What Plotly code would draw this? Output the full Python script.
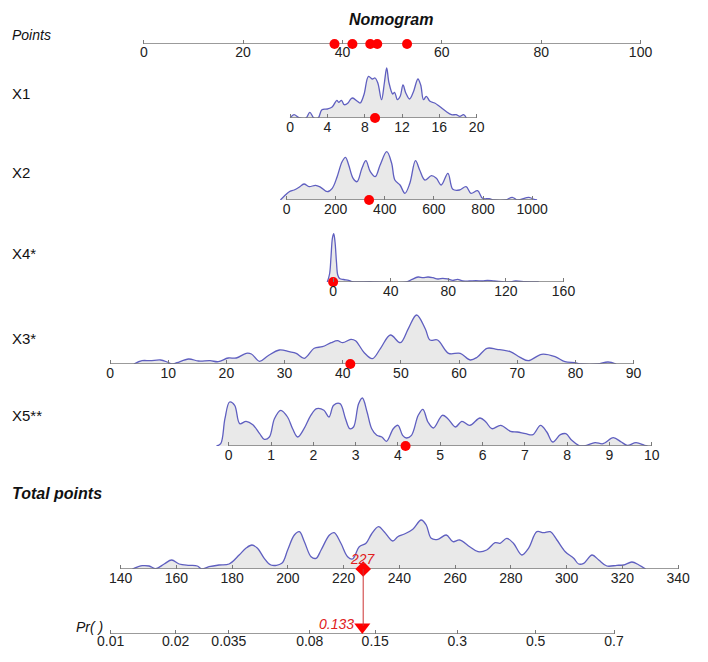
import math
import plotly.graph_objects as go

W, H = 708, 662
FONT = "Arial, Liberation Sans, sans-serif"

# ---------------- data ----------------
points_ticks = [0, 20, 40, 60, 80, 100]
var_labels = ["X1", "X2", "X4*", "X3*", "X5**"]
obs_values = [9.1, 336, 0, 41.3, 4.18]
obs_points = [47.0, 45.6, 38.4, 42.0, 53.0]
obs_total = 227
obs_prob = 0.133

x1_ticks = [0, 4, 8, 12, 16, 20]
x2_ticks = [0, 200, 400, 600, 800, 1000]
x4_ticks = [0, 40, 80, 120, 160]
x3_ticks = [0, 10, 20, 30, 40, 50, 60, 70, 80, 90]
x5_ticks = [0, 1, 2, 3, 4, 5, 6, 7, 8, 9, 10]
total_ticks = [140, 160, 180, 200, 220, 240, 260, 280, 300, 320, 340]
pr_ticks = [0.01, 0.02, 0.035, 0.08, 0.15, 0.3, 0.5, 0.7]
pr_labels = ["0.01", "0.02", "0.035", "0.08", "0.15", "0.3", "0.5", "0.7"]

x1_dx = [0, 0.4, 1.0, 1.7, 2.1, 2.55, 3.0, 3.4, 4.0, 4.5, 5.0, 5.2, 5.5, 5.8, 6.2, 6.5, 6.7, 7.2, 7.5,
         7.9, 8.4, 8.8, 9.1, 9.4, 9.8, 10.1, 10.35, 10.6, 11.0, 11.2, 11.5, 11.8, 12.1, 12.4, 12.8,
         13.2, 13.7, 14.0, 14.3, 14.6, 15.0, 15.5, 16.0, 16.7, 17.3, 17.8, 18.2, 18.6, 18.9]
x1_dy = [0, 3.3, 0, 0, 5.7, 0, 0, 8.3, 9, 11, 17.7, 15.7, 17.7, 13.3, 15, 19, 20, 16.7, 15,
         23, 41.7, 39, 40, 35, 18.3, 35, 50, 35, 24, 25.7, 18.3, 21.7, 33, 25, 19,
         25.7, 39, 33, 18.3, 21.7, 16.7, 15, 11.7, 6.7, 3.3, 3.3, 1.7, 3.3, 0]

x2_dx = [-25, -9, 11, 31, 51, 71, 92, 118, 139, 166, 186, 206, 226, 240, 253, 271, 287, 307, 323,
         341, 361, 381, 408, 428, 441, 462, 482, 502, 525, 542, 563, 590, 610, 630, 657, 677, 704,
         731, 751, 778, 798, 825, 845, 892, 919, 940, 987, 1007, 1020]
x2_dy = [0, 4, 8.3, 10, 12.7, 16, 13.3, 14.7, 12.7, 8.3, 11.7, 23.3, 38.3, 42.7, 35, 21.7, 18.3,
         31.7, 39.3, 28.3, 23.3, 35, 48.3, 36.7, 20, 15, 6.7, 16.7, 39.3, 30, 20, 24.3, 21.7, 15,
         26.7, 10.7, 10, 13.3, 6.7, 9.3, 1.7, 1.3, 0, 0, 2.7, 0, 2.7, 0.7, 0]

x4_dx = [-4.1, -2.5, -1.5, -0.5, 0.4, 1.3, 2.3, 3.2, 4.5, 7.3, 10.8, 13.1, 25.7, 30.3, 51, 54.4,
         59, 62.4, 65.9, 69.3, 72.8, 76.2, 79.7, 83.1, 86.5, 90, 94.6, 99.2, 103.8, 107.2, 111.8,
         117.5, 122.1, 126.7, 133.6, 142.8]
x4_dy = [0, 8, 25, 44, 48.3, 40, 20, 7, 3.5, 2.5, 1.7, 0.3, 0.3, 0, 0, 2.3,
         5, 4.3, 5, 4.3, 3, 3.7, 3, 1.7, 2.7, 1, 1, 1.3, 1, 1.7, 1,
         0.3, 0, 1, 0.3, 0]

x3_dx = [4.1, 5.5, 6.9, 8.7, 9.8, 10.6, 11.5, 13.5, 15.2, 17.2, 18.6, 20.3, 21.7, 23.4, 24.3, 25.7,
         27.1, 29.1, 30.8, 32, 33.4, 35.1, 36.5, 38, 39.1, 40, 41.4, 42.2, 43.7, 45.1, 46.5, 48.2,
         49.9, 51.3, 52.7, 54.2, 55.0, 56.3, 58.2, 60.2, 61.9, 63.1, 64.8, 66.5, 68.8, 70.5, 71.9,
         74.2, 76.5, 78.2, 79.9, 81, 83.8, 85.6, 87]
x3_dy = [0, 3.3, 3.3, 4, 2, 0, 1.3, 5, 3, 3.3, 2.3, 6, 6, 10.7, 10, 2.7,
         8, 14, 12.3, 10.7, 5.7, 15.7, 17.3, 21.3, 23.3, 21.3, 24.7, 23.3, 11.3, 5.3, 15.7, 29,
         21.3, 35.7, 49, 35, 24, 24, 10.7, 10.7, 4, 6.7, 15.7, 14.7, 12.3, 6.7, 3.3,
         9.7, 7.3, 2.3, 1.3, 0, 0, 2, 0]

x5_dx = [-0.29, -0.19, -0.09, 0.02, 0.14, 0.26, 0.41, 0.57, 0.73, 0.84, 0.96, 1.08, 1.23, 1.39, 1.51,
         1.63, 1.78, 1.94, 2.08, 2.25, 2.37, 2.48, 2.63, 2.76, 2.86, 2.95, 3.07, 3.16, 3.27, 3.38,
         3.5, 3.62, 3.73, 3.89, 4.0, 4.11, 4.2, 4.32, 4.48, 4.59, 4.71, 4.84, 5.05, 5.18, 5.36,
         5.51, 5.7, 5.94, 6.08, 6.22, 6.43, 6.66, 6.82, 7.02, 7.19, 7.37, 7.52, 7.66, 7.84, 7.97,
         8.11, 8.27, 8.34, 8.46, 8.66, 8.85, 9.09, 9.28, 9.42, 9.63, 9.83, 9.9]
x5_dy = [0, 2.3, 27.3, 44, 40.7, 22.3, 24.7, 21.3, 12.3, 6.7, 9, 27.3, 35.7, 29, 17.3,
         9, 17.3, 30.7, 37.3, 35.7, 29, 40.7, 42.3, 27.3, 17.3, 19, 42.3, 48, 34, 17.3,
         10.7, 9, 4.7, 17.3, 20.7, 10.7, 8, 10.7, 30.7, 36.7, 24, 18, 30.7, 27.3, 19,
         24.7, 20.7, 28, 24, 17.3, 20.7, 14.7, 14, 12.3, 11.3, 20.7, 14, 4, 11.3, 12.3,
         5.7, 0.7, 0, 0.7, 3.3, 2.3, 8.3, 4, 0.7, 3.3, 0.7, 0]

tot_dx = [144.2, 147.8, 150.2, 152.6, 155.6, 158.3, 161, 164.6, 167.5, 169.1, 171.7, 175.3, 178.9,
          182.5, 184.9, 187.1, 189.1, 191.5, 193.9, 197.8, 199.9, 202.3, 204.1, 205.9, 208.3, 210.1,
          211.9, 214.9, 216.6, 219, 221.4, 223.2, 225.6, 228, 230, 232.5, 234.6, 237.6, 239.4,
          241.8, 244.8, 247.8, 249.6, 251.4, 253.8, 256.8, 259.2, 261.6, 265.2, 268.2, 271.3, 274.3,
          276.1, 278.5, 280.9, 283.9, 286.3, 289.3, 291.7, 294.1, 296.5, 299.5, 302.5, 304.3, 306.1,
          309.1, 311.5, 314.4, 318, 320.4, 323.4, 325.9, 328.3]
tot_dy = [0, 3.3, 3, 0.3, 5, 9, 5, 3.7, 3, 0, 2.3, 4, 5,
          14, 20.7, 24, 20.7, 10.7, 4, 5.7, 19, 34, 37.3, 27.3, 12.3, 10.7,
          19, 34, 36.3, 25.7, 12.3, 10, 22.3, 25.7, 35, 42.3, 37, 28, 32.3,
          35, 39.7, 49, 44, 30.7, 29.7, 34, 27.3, 29, 22.3, 17.3, 19, 26.3,
          25.7, 30.7, 25.7, 14, 20.7, 37.3, 36.3, 37.3, 29, 17.3, 10.7, 5, 5.7,
          14, 9, 3, 3.7, 4, 7, 4, 0]


def logit(p):
    return math.log(p / (1 - p))


# ---------------- layout helpers ----------------
def xdom(v0, v1, p0, p1, r0, r1):
    s = (p1 - p0) / (v1 - v0)
    return [(p0 + (r0 - v0) * s) / W, (p0 + (r1 - v0) * s) / W]


def ydom(base, hpx):
    return [1 - base / H, 1 - (base - hpx) / H]


DH = 60  # px height of density panels

rows = [
    dict(t=points_ticks, tt=None, v=(0, 100), p=(145, 646), r=(-3, 103), base=44, dx=None, dy=None, so=-2),
    dict(t=x1_ticks, tt=None, v=(0, 20), p=(292.7, 480.7), r=(-1, 21), base=118, dx=x1_dx, dy=x1_dy, so=-1),
    dict(t=x2_ticks, tt=None, v=(0, 1000), p=(289, 536.7), r=(-40, 1040), base=200, dx=x2_dx, dy=x2_dy, so=-1),
    dict(t=x4_ticks, tt=None, v=(0, 160), p=(336, 568.3), r=(-8, 165), base=282, dx=x4_dx, dy=x4_dy, so=-1),
    dict(t=x3_ticks, tt=None, v=(0, 90), p=(111, 639), r=(-2, 92), base=364, dx=x3_dx, dy=x3_dy, so=-1),
    dict(t=x5_ticks, tt=None, v=(0, 10), p=(230.7, 657.3), r=(-0.5, 10.3), base=446, dx=x5_dx, dy=x5_dy, so=-1),
    dict(t=total_ticks, tt=None, v=(140, 340), p=(121.7, 684), r=(135, 345), base=569, dx=tot_dx, dy=tot_dy, so=-1),
    dict(t=[logit(p) for p in pr_ticks], tt=pr_labels, v=(logit(0.01), logit(0.7)), p=(111.6, 619.3),
         r=(logit(0.01) - 0.15, logit(0.7) + 0.15), base=634, dx=None, dy=None, so=-3),
]

fig = go.Figure()
layout = dict(
    width=W, height=H, autosize=False,
    margin=dict(l=0, r=0, t=0, b=0),
    paper_bgcolor="white", plot_bgcolor="rgba(0,0,0,0)",
    showlegend=False,
    font=dict(family=FONT, size=14, color="#222"),
)

LINE_COL = "#5f5fc0"
FILL_COL = "rgba(225,225,225,0.75)"
AXIS_COL = "#7a7a7a"
RED = "#ff0000"

for i, row in enumerate(rows, start=1):
    xa = "x" if i == 1 else f"x{i}"
    ya = "y" if i == 1 else f"y{i}"
    xkey = "xaxis" if i == 1 else f"xaxis{i}"
    ykey = "yaxis" if i == 1 else f"yaxis{i}"
    hpx = min(DH, row["base"] - 2)
    layout[xkey] = dict(
        domain=xdom(row["v"][0], row["v"][1], row["p"][0], row["p"][1], row["r"][0], row["r"][1]),
        range=list(row["r"]), anchor=ya,
        tickmode="array", tickvals=row["t"],
        ticktext=row["tt"] if row["tt"] else [str(t) for t in row["t"]],
        ticks="inside", ticklen=4, tickcolor=AXIS_COL, tickwidth=1,
        ticklabelstandoff=row["so"],
        showline=False, showgrid=False, zeroline=False,
        tickfont=dict(family=FONT, size=14, color="#222"),
        fixedrange=True,
    )
    layout[ykey] = dict(domain=ydom(row["base"], hpx), range=[0, hpx], anchor=xa,
                        visible=False, fixedrange=True)
    if row["dx"] is not None:
        fig.add_trace(go.Scatter(x=row["dx"], y=row["dy"], xaxis=xa, yaxis=ya, mode="lines",
                                 line=dict(color=LINE_COL, width=1.3, shape="spline", smoothing=1.0),
                                 fill="tozeroy", fillcolor=FILL_COL, hoverinfo="skip"))
    fig.add_trace(go.Scatter(x=[row["t"][0], row["t"][-1]], y=[0, 0], xaxis=xa, yaxis=ya,
                             mode="lines", line=dict(color=AXIS_COL, width=1.5), hoverinfo="skip"))

for k in range(5):
    i = k + 2
    fig.add_trace(go.Scatter(x=[obs_values[k]], y=[0], xaxis=f"x{i}", yaxis=f"y{i}", mode="markers",
                             marker=dict(color=RED, size=10, symbol="circle"), cliponaxis=False))
fig.add_trace(go.Scatter(x=obs_points, y=[0] * len(obs_points), xaxis="x", yaxis="y", mode="markers",
                         marker=dict(color=RED, size=10, symbol="circle"), cliponaxis=False))
fig.add_trace(go.Scatter(x=[obs_total], y=[0], xaxis="x7", yaxis="y7", mode="markers",
                         marker=dict(color=RED, size=12, symbol="diamond"), cliponaxis=False))
fig.add_trace(go.Scatter(x=[logit(obs_prob)], y=[7], xaxis="x8", yaxis="y8", mode="markers",
                         marker=dict(color=RED, size=14, symbol="triangle-down"), cliponaxis=False))

shapes = [dict(type="line", xref="x7", yref="paper", x0=obs_total, x1=obs_total,
               y0=1 - 569 / H, y1=1 - 626 / H, line=dict(color="#cc3333", width=1))]

ann = []
def lab(text, ypx, size=14, style="normal", bold=False, x=10, xanchor="left"):
    t = f"<b>{text}</b>" if bold else text
    ann.append(dict(text=t, xref="paper", yref="paper", x=x / W, y=1 - ypx / H, xanchor=xanchor,
                    yanchor="middle", showarrow=False,
                    font=dict(family=FONT, size=size, color="#111", style=style)))

lab("Nomogram", 19, size=16, style="italic", bold=True, x=394, xanchor="center")
lab("Points", 35, size=14, style="italic")
for name, ypx in zip(var_labels, [93, 172, 253, 338, 415]):
    lab(name, ypx, size=15)
lab("Total points", 493, size=16, style="italic", bold=True)
lab("Pr( )", 627, size=14, style="italic", x=106, xanchor="right")

ann.append(dict(text=str(obs_total), xref="x7", yref="paper", x=obs_total, y=1 - 559 / H,
                xanchor="center", yanchor="middle", showarrow=False,
                font=dict(family=FONT, size=14, color="#e02020", style="italic")))
ann.append(dict(text=f"{obs_prob:.3f}", xref="x8", yref="paper", x=logit(obs_prob), y=1 - 624 / H,
                xanchor="right", yanchor="middle", xshift=-6, showarrow=False,
                font=dict(family=FONT, size=14, color="#e02020", style="italic")))

layout["shapes"] = shapes
layout["annotations"] = ann
fig.update_layout(**layout)
fig.write_html("out.html")
